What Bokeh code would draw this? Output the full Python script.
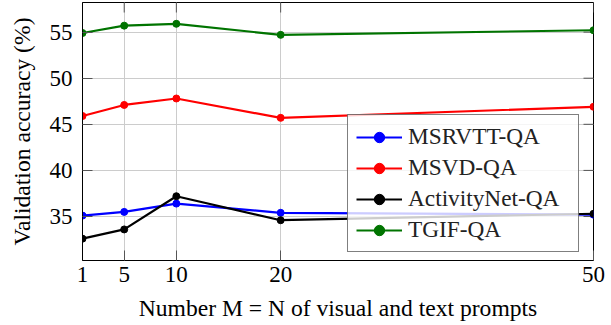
from bokeh.plotting import figure
from bokeh.models import FixedTicker, Legend, LegendItem, Range1d
from bokeh.embed import file_html
from bokeh.resources import INLINE
import math

# ---- data ----
prompts = [1, 5, 10, 20, 50]
msrvtt = [35.1, 35.5, 36.4, 35.4, 35.2]
msvd = [45.9, 47.1, 47.8, 45.7, 46.9]
activitynet = [32.6, 33.6, 37.2, 34.6, 35.3]
tgif = [54.9, 55.7, 55.9, 54.7, 55.2]
series_names = ["MSRVTT-QA", "MSVD-QA", "ActivityNet-QA", "TGIF-QA"]
series_colors = ["#0000ff", "#ff0000", "#000000", "#007400"]
y_ticks = [35, 40, 45, 50, 55]
y_min, y_max = 30.23, 58.21
x_min, x_max = 1, 50

FONT = "Liberation Serif"
TICK_FS = "23px"
LABEL_FS = "23.6px"
LEGEND_FS = "23.3px"
TICK_COLOR = "#555555"

p = figure(width=611, height=325, output_backend="svg", toolbar_location=None,
           x_range=Range1d(x_min, x_max), y_range=Range1d(y_min, y_max),
           min_border_left=82, min_border_right=18, min_border_top=2, min_border_bottom=65)
p.background_fill_color = "white"
p.border_fill_color = "white"
p.outline_line_color = "black"
p.outline_line_width = 1

xt = FixedTicker(ticks=prompts)
yt = FixedTicker(ticks=y_ticks)

for ax, tk in ((p.xaxis[0], xt), (p.yaxis[0], yt)):
    ax.ticker = tk
    ax.major_tick_in = 10
    ax.major_tick_out = 0
    ax.minor_tick_line_color = None
    ax.major_tick_line_color = TICK_COLOR
    ax.axis_line_color = "black"
    ax.major_label_text_font = FONT
    ax.major_label_text_font_size = TICK_FS
    ax.major_label_text_color = "black"
    ax.axis_label_text_font = FONT
    ax.axis_label_text_font_size = LABEL_FS
    ax.axis_label_text_font_style = "normal"
    ax.axis_label_text_color = "black"

p.yaxis[0].major_label_standoff = 10
p.xaxis[0].major_label_standoff = 6
p.xaxis[0].axis_label = "Number M = N of visual and text prompts"
p.yaxis[0].axis_label = "Validation accuracy (%)"
p.xaxis[0].axis_label_standoff = 10
p.yaxis[0].axis_label_standoff = 12

# inward ticks on the top and right edges of the frame
p.ray(x=prompts, y=[y_max] * len(prompts), length=10, angle=-math.pi / 2,
      length_units="screen", line_color=TICK_COLOR, line_width=1)
p.ray(x=[x_max] * len(y_ticks), y=y_ticks, length=10, angle=math.pi,
      length_units="screen", line_color=TICK_COLOR, line_width=1)

p.xgrid.ticker = xt
p.ygrid.ticker = yt
p.grid.grid_line_color = "#cccccc"
p.grid.grid_line_width = 1

items = []
for name, vals, col in zip(series_names, [msrvtt, msvd, activitynet, tgif], series_colors):
    lr = p.line(prompts, vals, line_color=col, line_width=2.2)
    sr = p.scatter(prompts, vals, size=7, fill_color=col, line_color=col)
    items.append(LegendItem(label=name, renderers=[lr, sr]))

legend = Legend(items=items, location=(265, 8), orientation="vertical",
                label_text_font=FONT, label_text_font_size=LEGEND_FS, label_text_color="#222222",
                glyph_width=46, glyph_height=26, label_height=26, label_width=162,
                label_standoff=6, spacing=4, padding=8, margin=0,
                border_line_color="black", border_line_width=1,
                background_fill_color="white", background_fill_alpha=0.8)
p.add_layout(legend, "center")

open("out.html", "w").write(file_html(p, INLINE))
